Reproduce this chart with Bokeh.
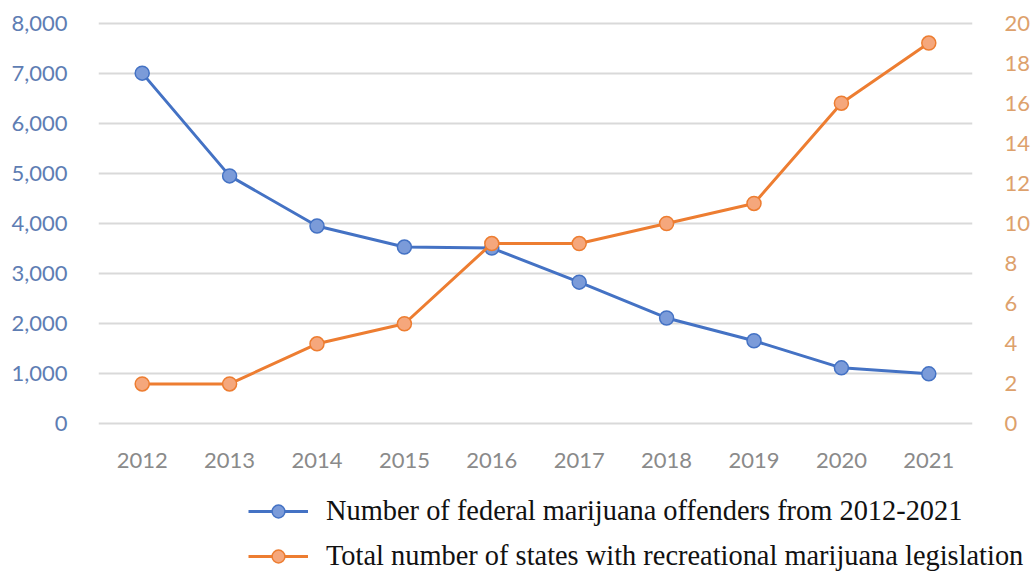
from bokeh.plotting import figure
from bokeh.layouts import column
from bokeh.models import Range1d, LinearAxis, Legend, LegendItem, FactorRange, NumeralTickFormatter, FixedTicker
from bokeh.embed import file_html
from bokeh.resources import INLINE

years = ["2012", "2013", "2014", "2015", "2016", "2017", "2018", "2019", "2020", "2021"]
offenders = [7000, 4950, 3950, 3530, 3510, 2830, 2115, 1660, 1120, 1000]
states = [2, 2, 4, 5, 9, 9, 10, 11, 16, 19]
left_ticks = [0, 1000, 2000, 3000, 4000, 5000, 6000, 7000, 8000]
right_ticks = [0, 2, 4, 6, 8, 10, 12, 14, 16, 18, 20]
label_offenders = "Number of federal marijuana offenders from 2012-2021"
label_states = "Total number of states with recreational marijuana legislation"

BLUE = "#4472C4"
BLUE_FILL = "#7B9BD9"
ORANGE = "#ED7D31"
ORANGE_FILL = "#F5A77C"
TICK_FONT = "Lato"

p = figure(frame_width=874, frame_height=406, x_range=FactorRange(*years),
           y_range=Range1d(-50, 8050),
           output_backend="svg", toolbar_location=None,
           min_border_left=98, min_border_right=56, min_border_top=20, min_border_bottom=50)
p.extra_y_ranges = {"states": Range1d(-0.125, 20.125)}
p.outline_line_color = None
p.background_fill_color = "white"
p.border_fill_color = "white"

# axes
p.yaxis.ticker = FixedTicker(ticks=left_ticks)
p.yaxis.formatter = NumeralTickFormatter(format="0,0")
ra = LinearAxis(y_range_name="states", ticker=FixedTicker(ticks=right_ticks))
p.add_layout(ra, "right")
for ax in [p.xaxis[0], p.yaxis[0], ra]:
    ax.axis_line_color = None
    ax.major_tick_line_color = None
    ax.minor_tick_line_color = None
    ax.major_label_text_font = TICK_FONT
    ax.major_label_text_font_size = "22px"
p.yaxis[0].major_label_standoff = 25
p.yaxis[0].major_label_text_color = "#5E7DB3"
ra.major_label_standoff = 26
ra.major_label_text_color = "#DDA16C"
p.xaxis[0].major_label_standoff = 20
p.xaxis[0].major_label_text_color = "#8A8A8A"

p.xgrid.grid_line_color = None
p.ygrid.grid_line_color = "#D9D9D9"
p.ygrid.grid_line_width = 2

p.line(years, offenders, line_color=BLUE, line_width=3)
p.scatter(years, offenders, size=14, fill_color=BLUE_FILL, line_color=BLUE, line_width=1.5)
p.line(years, states, line_color=ORANGE, line_width=3, y_range_name="states")
p.scatter(years, states, size=14, fill_color=ORANGE_FILL, line_color=ORANGE, line_width=1.5,
          y_range_name="states")

# legend panel below the chart (its series sit outside its visible range; only the legend shows)
lg = figure(width=1028, height=96, x_range=FactorRange(*years), y_range=Range1d(-3, -2),
            output_backend="svg", toolbar_location=None,
            min_border_left=0, min_border_right=0, min_border_top=0, min_border_bottom=0)
frame_aligned_off = False
try:
    lg.frame_align = False
    frame_aligned_off = True
except Exception:
    pass
lg.axis.visible = False
lg.grid.visible = False
lg.outline_line_color = None
lg.border_fill_color = "white"
lg.background_fill_color = "white"
k1 = lg.line(years, offenders, line_color=BLUE, line_width=3)
m1 = lg.scatter(years, offenders, size=14, fill_color=BLUE_FILL, line_color=BLUE, line_width=1.5)
k2 = lg.line(years, states, line_color=ORANGE, line_width=3)
m2 = lg.scatter(years, states, size=14, fill_color=ORANGE_FILL, line_color=ORANGE, line_width=1.5)

legend = Legend(items=[LegendItem(label=label_offenders, renderers=[k1, m1]),
                       LegendItem(label=label_states, renderers=[k2, m2])],
                location=(248 if frame_aligned_off else 150, 0), orientation="vertical",
                label_text_font="Liberation Serif", label_text_font_size="28.4px",
                label_text_color="#111111", glyph_width=60, glyph_height=32, label_height=24,
                label_standoff=18, spacing=13, padding=0, margin=0,
                border_line_color=None, background_fill_alpha=0)
lg.add_layout(legend)

layout = column(p, lg, spacing=0)
open("out.html", "w").write(file_html(layout, INLINE))
